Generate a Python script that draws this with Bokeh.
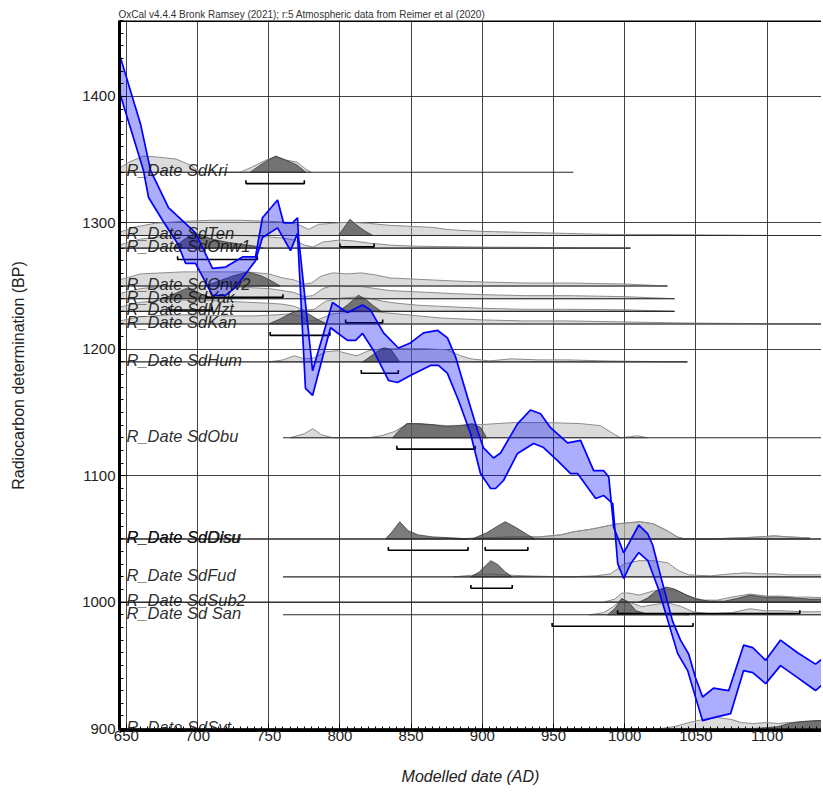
from bokeh.plotting import figure
from bokeh.models import Range1d, SingleIntervalTicker, ColumnDataSource, LabelSet, Span
from bokeh.core.properties import value
from bokeh.embed import file_html
from bokeh.resources import INLINE

# ---------------- data ----------------
TITLE = "OxCal v4.4.4 Bronk Ramsey (2021); r:5 Atmospheric data from Reimer et al (2020)"

# calibration curve band (IntCal20), upper and lower edges: (year AD, BP)
cal_upper_t = [645, 660, 667, 679.6, 698.6, 710.5, 719.7, 731.6, 740.7, 745.6, 756.2, 760.4, 766.7, 770.2, 771,
               780.8, 794.8, 805.3, 815.9, 821.5, 830.6, 841.1, 849.5, 858.7, 868.5, 875.5, 881.2, 889.6, 896.6,
               900.8, 907.9, 912.8, 924.7, 933.8, 940.9, 947.9, 959.9, 969, 978.2, 985.3, 988.8, 992.3, 999.3,
               1009.9, 1016.2, 1019.7, 1025.4, 1033.6, 1039.2, 1044.9, 1049.8, 1054.7, 1062.4, 1073, 1083.5,
               1089.9, 1099, 1109.4, 1121.4, 1134, 1139.7]
cal_upper_bp = [1434, 1378, 1341.5, 1312, 1292, 1264, 1265, 1273, 1273, 1304, 1318, 1300, 1300, 1304, 1288,
                1183, 1237, 1229, 1235, 1231, 1213, 1201, 1205, 1213, 1215, 1209, 1194, 1162, 1136,
                1122, 1114, 1118, 1141, 1152, 1149, 1138, 1126, 1128, 1104, 1104, 1099, 1059, 1039,
                1061, 1054, 1045, 1020, 985, 970, 959, 940, 925, 932, 930, 966,
                964, 954, 970, 960, 951, 956]
cal_lower_t = [645, 662, 665.6, 675.4, 686, 691.6, 698.6, 710.5, 719.7, 726.7, 740.7, 745.6, 756.2, 765.3,
               770.2, 775.8, 780.8, 787.8, 793.4, 805.3, 811, 815.9, 823.6, 834.1, 840.4, 849.5, 863.6, 869.2,
               875.5, 883.3, 891.7, 898.7, 905.8, 909.3, 914.9, 924.7, 936, 943, 952.8, 962, 966.9, 979.6,
               985.3, 991.6, 995.1, 999.3, 1004.3, 1009.9, 1016.2, 1023.3, 1030.3, 1037.2, 1044.2, 1049.8,
               1054.7, 1062.4, 1074.4, 1083.5, 1089.9, 1099, 1109.4, 1121.4, 1134, 1139.7]
cal_lower_bp = [1404, 1341.5, 1320, 1302, 1283.7, 1268, 1268, 1242.6, 1242.6, 1249, 1270, 1288.4, 1296, 1278,
                1291.6, 1169, 1163.5, 1193.5, 1217, 1207, 1207, 1212.5, 1199, 1175.3, 1173.7, 1179.3, 1187.2,
                1187.2, 1180.9, 1159.5, 1133.4, 1101.7, 1089.9, 1089.9, 1096.2, 1117.6, 1125.5, 1122.3, 1112,
                1101.7, 1101.7, 1082, 1084.3, 1078, 1030.5, 1018.7, 1030.5, 1039.2, 1032.9, 1011.6, 985.4,
                959.3, 945.9, 924.5, 906.3, 908.7, 911.9, 945.9, 944.3, 935.6, 949.8, 940.3, 930.1, 935.6]

# R_Date rows: name, radiocarbon age (BP), extent of the row line (AD)
dates = ["R_Date SdKri", "R_Date SdTen", "R_Date SdOnw1", "R_Date SdOnw2", "R_Date SdYak", "R_Date SdMzt",
         "R_Date SdKan", "R_Date SdHum", "R_Date SdObu", "R_Date SdOlsu", "R_Date SdDisu", "R_Date SdFud",
         "R_Date SdSub2", "R_Date Sd San", "R_Date SdSyt"]
date_bp = [1340, 1290, 1280, 1250, 1240, 1230, 1220, 1190, 1130, 1050, 1050, 1020, 1000, 990, 900]
line_from = [645, 645, 645, 645, 645, 645, 645, 645, 760, 645, 645, 760, 645, 760, 645]
line_to = [964, 1140, 1004, 1030, 1035, 1035, 1140, 1044, 1140, 1140, 1140, 1140, 1140, 1140, 1140]

# 68.3% ranges (AD) drawn as brackets under each row
ranges = [[(734, 775)], [(800, 824)], [(686, 742)], [(706, 760)], [(680, 710)], [(804, 830)],
          [(751, 793)], [(815, 841)], [(840, 895)], [(834, 890)], [(902, 932)], [(892, 921)],
          [(995, 1123)], [(949, 1048)], []]

# unmodelled (light) and modelled (dark) probability, relative units (peak ~16)
SdKri_light = ([645, 652, 662, 672, 685, 695, 702, 730, 738, 748, 755, 762, 770, 776, 780],
               [4, 10, 16, 15, 13, 7, 0, 0, 5, 12, 15, 12, 10, 3, 0])
SdKri_dark = ([737, 745, 752, 755, 762, 770, 776], [0, 8, 14, 16, 12, 7, 0])
SdTen_light = ([645, 655, 670, 690, 710, 730, 750, 765, 772, 778, 785, 795, 805, 820, 835, 850, 865, 875, 885,
                900, 930, 960, 990, 1020, 1060, 1100],
               [3, 8, 12, 14, 15, 15, 14, 13, 10, 6, 11, 12, 13, 12, 10, 9, 8, 6, 5, 4, 3, 2, 1, 1, 0.5, 0])
SdTen_dark = ([799, 803, 807, 812, 817, 823], [0, 8, 16, 10, 5, 0])
SdOnw1_light = ([645, 660, 680, 700, 720, 740, 760, 768, 775, 781, 788, 800, 810, 820, 835, 850, 870, 900, 960, 1004],
                [3, 9, 12, 13, 13, 12, 10, 8, 3, 1, 6, 8, 7, 5, 3, 2, 1.5, 1, 0.5, 0])
SdOnw1_dark = ([683, 690, 697, 703, 710, 720, 730, 740, 746], [0, 8, 14, 13, 9, 6, 4, 2, 0])
SdOnw2_light = ([645, 660, 675, 690, 705, 720, 735, 750, 760, 768, 775, 780, 787, 795, 805, 815, 825, 835, 850,
                 865, 880, 900, 930, 960, 1000, 1030],
                [6, 12, 13, 14, 14, 14, 14, 12, 8, 6, 2, 3, 10, 13, 12, 13, 11, 8, 7, 6, 5, 4, 3, 3, 2, 0])
SdOnw2_dark = ([705, 715, 725, 735, 745, 752, 758], [0, 5, 10, 14, 10, 5, 0])
SdYak_light = ([645, 660, 675, 690, 705, 720, 735, 750, 760, 768, 775, 781, 788, 795, 805, 815, 825, 835, 850,
                865, 880, 900, 930, 960, 1000, 1035],
               [5, 10, 12, 13, 13, 12, 11, 10, 8, 6, 2, 3, 10, 13, 12, 12, 10, 8, 7, 6, 5, 4, 3, 3, 2, 0])
SdYak_dark = ([676, 684, 692, 698, 705, 712], [0, 5, 10, 8, 3, 0])
SdMzt_light = ([645, 660, 675, 690, 705, 720, 735, 750, 760, 768, 775, 782, 790, 800, 810, 820, 830, 840, 855,
                870, 885, 900, 930, 960, 1000, 1035],
               [4, 9, 11, 11, 11, 10, 9, 8, 7, 5, 1, 2, 10, 13, 14, 13, 10, 8, 6, 5, 4, 3, 2, 2, 1.5, 0])
SdMzt_dark = ([799, 805, 810, 813, 818, 823, 829], [0, 6, 12, 16, 12, 6, 0])
SdKan_light = ([645, 660, 680, 700, 720, 740, 755, 765, 772, 778, 784, 795, 810, 825, 840, 855, 870, 885, 900,
                930, 960, 1000, 1040, 1080, 1140],
               [3, 7, 9, 9, 8, 8, 9, 10, 8, 3, 4, 10, 12, 12, 10, 8, 6, 5, 4, 3, 3, 2, 1, 0.5, 0])
SdKan_dark = ([750, 758, 766, 773, 779, 785, 791], [0, 5, 11, 14, 9, 4, 0])
SdHum_light = ([750, 760, 768, 775, 782, 790, 798, 806, 812, 820, 830, 845, 860, 875, 885, 892, 905, 920, 940,
                960, 985, 1010, 1044],
               [0, 2, 6, 3, 4, 10, 11, 8, 6, 11, 13, 13, 13, 12, 6, 3, 1, 3, 2, 2, 1, 0.5, 0])
SdHum_dark = ([816, 822, 828, 831, 836, 840, 842], [0, 6, 12, 14, 12, 4, 0])
SdObu_light = ([765, 775, 781, 787, 795, 820, 829, 838, 848, 876, 899, 922, 946, 969, 983, 992, 997, 1004, 1009, 1016],
               [0, 4, 9, 3, 0, 0, 2, 6, 14, 12, 13, 15, 15, 14, 12, 4, 0, 1, 2, 0])
SdObu_dark = ([837, 842, 847, 856, 865, 875, 885, 893, 899, 903], [0, 8, 14, 14, 13, 11, 12, 14, 10, 0])
SdOlsu_light = ([880, 900, 920, 940, 955, 964, 978, 995, 1011, 1020, 1030, 1037, 1042, 1060, 1080, 1095, 1105,
                 1115, 1130],
                [0, 1, 2, 2, 4, 7, 10, 15, 17, 15, 8, 2, 0, 0, 1, 2, 3, 2, 1])
SdOlsu_dark = ([832, 836, 842, 848, 855, 865, 880, 890], [0, 6, 17, 8, 4, 2, 1, 0])
SdDisu_light = ([880, 900, 920, 940, 955, 964, 978, 995, 1011, 1020, 1030, 1037, 1042, 1060, 1080, 1095, 1105,
                 1115, 1130],
                [0, 1, 2, 2, 4, 7, 10, 15, 17, 15, 8, 2, 0, 0, 1, 2, 3, 2, 1])
SdDisu_dark = ([893, 903, 910, 916, 924, 932, 937], [0, 6, 12, 17, 11, 4, 0])
SdFud_light = ([880, 895, 905, 915, 930, 960, 980, 990, 995, 1000, 1010, 1020, 1030, 1038, 1045, 1060, 1075,
                1085, 1095, 1105, 1115, 1135, 1145],
               [0, 2, 3, 2, 1, 0, 1, 3, 8, 13, 16, 16, 14, 6, 2, 1, 3, 4, 3, 3, 2, 2, 2])
SdFud_dark = ([892, 898, 903, 906, 911, 916, 921], [0, 5, 12, 16, 12, 5, 0])
SdSub2_light = ([985, 993, 998, 1003, 1010, 1020, 1029, 1037, 1045, 1055, 1065, 1075, 1088, 1100, 1110, 1120,
                 1130, 1145],
                [0, 3, 9, 9, 7, 11, 13, 11, 6, 2, 2, 5, 8, 6, 6, 5, 5, 4])
SdSub2_dark = ([1010, 1016, 1022, 1029, 1035, 1042, 1050, 1060, 1070, 1080, 1088, 1098, 1108, 1120, 1130, 1145],
               [0, 4, 11, 15, 13, 8, 3, 1, 1, 4, 7, 5, 5, 4, 3, 3])
SdSan_light = ([975, 985, 992, 998, 1004, 1012, 1020, 1030, 1040, 1048, 1060, 1075, 1088, 1098, 1110, 1125, 1145],
               [0, 2, 8, 16, 12, 8, 10, 12, 8, 3, 1, 2, 6, 4, 4, 3, 3])
SdSan_dark = ([988, 993, 998, 1003, 1008, 1015, 1030, 1045], [0, 6, 16, 12, 4, 1, 1, 0])
SdSyt_light = ([1025, 1035, 1045, 1055, 1065, 1075, 1082, 1090, 1100, 1108, 1115, 1125, 1145],
               [0, 2, 6, 9, 11, 9, 6, 5, 6, 5, 6, 7, 8])
SdSyt_dark = ([1090, 1100, 1108, 1115, 1125, 1135, 1145], [0, 1, 2, 5, 7, 8, 8])

light_dists = [SdKri_light, SdTen_light, SdOnw1_light, SdOnw2_light, SdYak_light, SdMzt_light, SdKan_light,
               SdHum_light, SdObu_light, SdOlsu_light, SdDisu_light, SdFud_light, SdSub2_light, SdSan_light,
               SdSyt_light]
dark_dists = [SdKri_dark, SdTen_dark, SdOnw1_dark, SdOnw2_dark, SdYak_dark, SdMzt_dark, SdKan_dark,
              SdHum_dark, SdObu_dark, SdOlsu_dark, SdDisu_dark, SdFud_dark, SdSub2_dark, SdSan_dark,
              SdSyt_dark]

# ---------------- style / layout ----------------
X0, X1 = 645.2, 1138.2
Y0, Y1 = 898.5, 1460.0
H_SCALE = 0.8       # BP per relative probability unit (about 1 px)
BR_OFF = 9.0        # bracket offset below row (BP)
BR_TICK = 2.6       # bracket end tick (BP)
FONT = "Liberation Sans"

p = figure(width=821, height=790, x_range=Range1d(X0, X1), y_range=Range1d(Y0, Y1),
           output_backend="svg", toolbar_location=None,
           min_border_left=119, min_border_top=20, min_border_right=0, min_border_bottom=60)
p.background_fill_color = "white"
p.border_fill_color = "white"
p.outline_line_color = None

p.title.text = TITLE
p.title.text_font = FONT
p.title.text_font_size = "10px"
p.title.text_font_style = "normal"
p.title.text_color = "#333333"
p.title.align = "left"
p.title.offset = -1
p.title.standoff = 1

p.xaxis.ticker = SingleIntervalTicker(interval=50, num_minor_ticks=10)
p.yaxis.ticker = SingleIntervalTicker(interval=100, num_minor_ticks=10)
p.xgrid.ticker = SingleIntervalTicker(interval=50)
p.ygrid.ticker = SingleIntervalTicker(interval=100)
for g in (p.xgrid, p.ygrid):
    g.grid_line_color = "#222222"
    g.grid_line_width = 1
    g.grid_line_alpha = 0.85
for ax in (p.xaxis, p.yaxis):
    ax.axis_line_width = 3
    ax.axis_line_color = "black"
    ax.major_tick_in = 7
    ax.major_tick_out = 0
    ax.minor_tick_in = 4
    ax.minor_tick_out = 0
    ax.major_tick_line_color = "black"
    ax.minor_tick_line_color = "black"
    ax.major_label_text_font = FONT
    ax.major_label_text_font_size = "15px"
    ax.major_label_text_color = "#222222"
    ax.axis_label_text_font = FONT
    ax.axis_label_text_font_size = "16px"
    ax.axis_label_text_color = "#222222"
p.xaxis.axis_label = "Modelled date (AD)"
p.xaxis.axis_label_text_font_style = "italic"
p.xaxis.major_label_standoff = 0
p.xaxis.axis_label_standoff = 24
p.yaxis.axis_label = "Radiocarbon determination (BP)"
p.yaxis.axis_label_text_font_style = "normal"
p.yaxis.major_label_standoff = 4
p.yaxis.axis_label_standoff = 52

p.add_layout(Span(location=Y1, dimension="width", line_color="black", line_width=3))

# distributions
def dist_patch(dist, base):
    t, h = dist
    xs = list(t) + [t[-1], t[0]]
    ys = [base + v * H_SCALE for v in h] + [base, base]
    return xs, ys

lx, ly, dx, dy = [], [], [], []
for d, b in zip(light_dists, date_bp):
    xs, ys = dist_patch(d, b)
    lx.append(xs); ly.append(ys)
for d, b in zip(dark_dists, date_bp):
    xs, ys = dist_patch(d, b)
    dx.append(xs); dy.append(ys)

p.patches(lx, ly, fill_color="#b0b0b0", fill_alpha=0.45, line_color="#8c8c8c", line_width=1)
p.patches(dx, dy, fill_color="#4a4a4a", fill_alpha=0.72, line_color="#3a3a3a", line_width=0.8)

# row lines
p.segment(x0=line_from, y0=date_bp, x1=line_to, y1=date_bp, line_color="#2a2a2a", line_width=1.1)

# range brackets
bx, by = [], []
for rr, b in zip(ranges, date_bp):
    for a, c in rr:
        yb = b - BR_OFF
        bx.append([a, a, c, c])
        by.append([yb + BR_TICK, yb, yb, yb + BR_TICK])
p.multi_line(bx, by, line_color="black", line_width=1.6)

# calibration curve band
band_x = cal_upper_t + cal_lower_t[::-1]
band_y = cal_upper_bp + cal_lower_bp[::-1]
p.patch(band_x, band_y, fill_color="#0000ff", fill_alpha=0.32, line_color=None)
p.line(cal_upper_t, cal_upper_bp, line_color="#0000ff", line_width=1.7)
p.line(cal_lower_t, cal_lower_bp, line_color="#0000ff", line_width=1.7)

# row labels
lab_src = ColumnDataSource(dict(x=[X0] * len(dates), y=date_bp, text=dates))
p.add_layout(LabelSet(x="x", y="y", text="text", source=lab_src, x_offset=7, y_offset=-4,
                      text_font=value(FONT), text_font_size=value("16.5px"),
                      text_font_style=value("italic"), text_color=value("#111111"),
                      text_baseline=value("alphabetic"), text_alpha=0.9))

open("out.html", "w").write(file_html(p, INLINE))
